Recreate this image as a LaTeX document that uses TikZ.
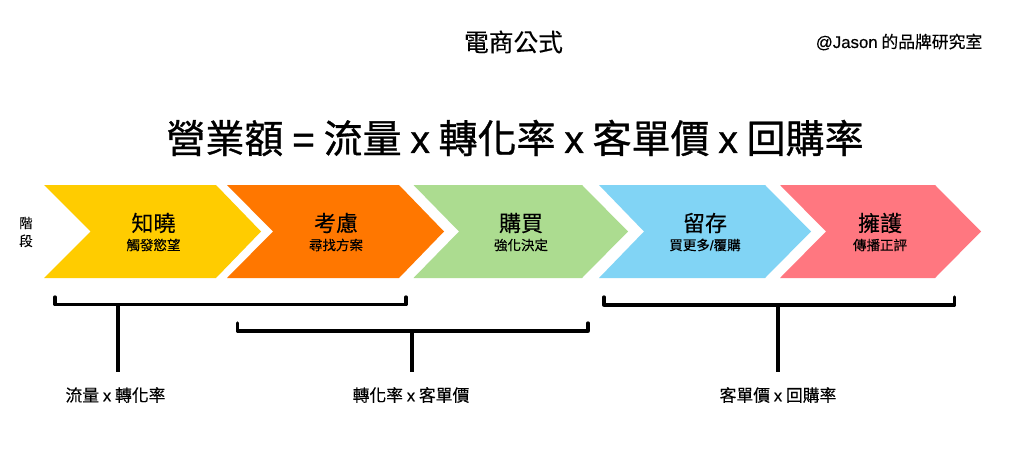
\documentclass[tikz,border=0pt]{standalone}
\usepackage{fontspec}
\setmainfont{Noto Sans CJK TC}[FakeBold=0.25]
\newfontfamily\latinf{Liberation Sans}[FakeBold=0.25]
\newfontfamily\heavyf{Noto Sans CJK TC}[FakeBold=0.8]
\newfontfamily\heavylat{Liberation Sans}[FakeBold=0.8]
\newcommand{\xx}{{\latinf x}}
\newcommand{\hx}{{\heavylat x}}
\definecolor{cyellow}{HTML}{FFCC00}
\definecolor{corange}{HTML}{FF7700}
\definecolor{cgreen}{HTML}{ACDC90}
\definecolor{cblue}{HTML}{81D4F5}
\definecolor{cred}{HTML}{FF7780}
\tikzset{
  lbl/.style={inner sep=0pt,text=black,align=center},
  big/.style={lbl,font=\fontsize{22}{24}\selectfont},
  small/.style={lbl,font=\fontsize{13.5}{15}\selectfont},
  note/.style={lbl,font=\fontsize{16.8}{19}\selectfont},
  brk/.style={draw=black,line width=3.3pt,line join=round,line cap=round},
  stem/.style={draw=black,line width=3.3pt},
}
\begin{document}
\begin{tikzpicture}[x=1pt,y=-1pt]
\useasboundingbox[fill=white] (0,0) rectangle (1024,465);
\fill[cyellow] (44,185) -- (216,185) -- (261,231.5) -- (216,278) -- (44,278) -- (90.5,231.5) -- cycle;
\fill[corange] (227,185) -- (399,185) -- (444,231.5) -- (399,278) -- (227,278) -- (273,231.5) -- cycle;
\fill[cgreen] (413.5,185) -- (582,185) -- (628,231.5) -- (582,278) -- (413.5,278) -- (459,231.5) -- cycle;
\fill[cblue] (599,185) -- (765,185) -- (811,231.5) -- (765,278) -- (599,278) -- (644,231.5) -- cycle;
\fill[cred] (780,185) -- (935,185) -- (981,231.5) -- (935,278) -- (780,278) -- (826,231.5) -- cycle;

\node[lbl,font=\fontsize{24.7}{28}\selectfont] (title) at (513.5,42) {電商公式};
\node[note] (brand) at (899,42) {{\latinf @Jason} 的品牌研究室};
\node[lbl,font=\fontsize{39}{44}\heavyf] (formula) at (515,138) {營業額 {\heavylat =} 流量 \hx{} 轉化率 \hx{} 客單價 \hx{} 回購率};
\node[small,font=\fontsize{13.5}{18}\selectfont] (stage) at (26,232) {階\\段};

\node[big] (a1) at (153.5,223) {知曉};
\node[small] (a2) at (153.5,245) {觸發慾望};
\node[big] (b1) at (336,223) {考慮};
\node[small] (b2) at (336,245) {尋找方案};
\node[big] (c1) at (521,223) {購買};
\node[small] (c2) at (521,245) {強化決定};
\node[big] (d1) at (705,223) {留存};
\node[small] (d2) at (705,245) {買更多{\latinf /}覆購};
\node[big] (e1) at (880,223) {擁護};
\node[small] (e2) at (880,245) {傳播正評};

\node[note] (l1) at (115.5,395) {流量 \xx{} 轉化率};
\node[note] (l2) at (411,395) {轉化率 \xx{} 客單價};
\node[note] (l3) at (778,395) {客單價 \xx{} 回購率};

\coordinate (t1) at (118,305);
\coordinate (s1) at (118,372);
\coordinate (t2) at (412,331);
\coordinate (s2) at (412,372);
\coordinate (t3) at (778,305);
\coordinate (s3) at (778,372);

\draw[brk] (55,297) -- (55,304.5) -- (406,304.5) -- (406,297);
\draw[brk] (237.5,323) -- (237.5,331) -- (588,331) -- (588,323);
\draw[brk] (604,297) -- (604,305) -- (954.5,305) -- (954.5,297);
\draw[stem] (t1) -- (s1);
\draw[stem] (t2) -- (s2);
\draw[stem] (t3) -- (s3);
\end{tikzpicture}
\end{document}
